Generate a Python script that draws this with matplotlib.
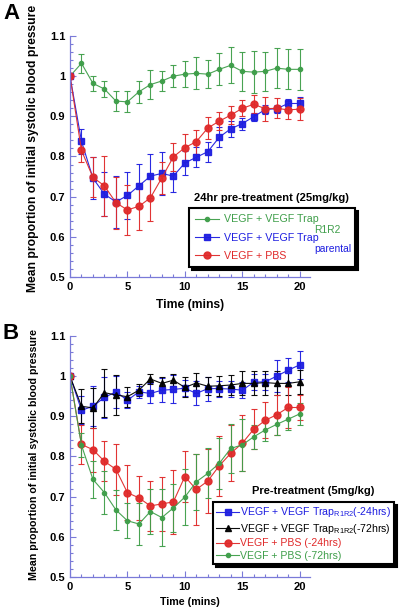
import numpy as np
import matplotlib.pyplot as plt
from matplotlib.ticker import MultipleLocator, FuncFormatter

plt.rcParams["font.family"] = ["Liberation Sans", "DejaVu Sans"]
plt.rcParams["mathtext.fontset"] = "custom"
plt.rcParams["mathtext.rm"] = "Liberation Sans"

time_min = np.arange(0, 21)

# Panel A: 24hr pre-treatment (25mg/kg)
a_r1r2 = [1.0, 1.032, 0.982, 0.968, 0.938, 0.936, 0.961, 0.979, 0.988, 1.0, 1.005,
          1.007, 1.005, 1.017, 1.027, 1.012, 1.01, 1.012, 1.02, 1.017, 1.017]
a_r1r2_err = [0, 0.024, 0.019, 0.02, 0.024, 0.026, 0.027, 0.036, 0.025, 0.028, 0.033,
              0.04, 0.035, 0.04, 0.045, 0.049, 0.053, 0.049, 0.049, 0.05, 0.051]
a_parental = [1.0, 0.838, 0.746, 0.706, 0.687, 0.703, 0.727, 0.751, 0.758, 0.751, 0.784,
              0.798, 0.812, 0.848, 0.869, 0.882, 0.899, 0.917, 0.919, 0.932, 0.932]
a_parental_err = [0, 0.031, 0.053, 0.055, 0.065, 0.058, 0.055, 0.055, 0.053, 0.04, 0.03,
                  0.025, 0.025, 0.025, 0.02, 0.015, 0.01, 0.01, 0.01, 0.01, 0.015]
a_pbs = [1.0, 0.815, 0.748, 0.727, 0.685, 0.667, 0.676, 0.697, 0.747, 0.799, 0.822,
         0.837, 0.871, 0.888, 0.903, 0.92, 0.93, 0.919, 0.92, 0.916, 0.918]
a_pbs_err = [0, 0.028, 0.05, 0.075, 0.065, 0.063, 0.058, 0.057, 0.04, 0.035, 0.035,
             0.03, 0.027, 0.023, 0.022, 0.02, 0.022, 0.03, 0.025, 0.022, 0.028]
a_labels = ["VEGF + VEGF Trap", "VEGF + VEGF Trap", "VEGF + PBS"]
a_subs = ["R1R2", "parental"]

# Panel B: Pre-treatment (5mg/kg)
b_trap24 = [1.0, 0.915, 0.925, 0.947, 0.961, 0.94, 0.961, 0.957, 0.965, 0.967, 0.97,
            0.957, 0.969, 0.969, 0.968, 0.965, 0.985, 0.986, 1.0, 1.015, 1.028]
b_trap24_err = [0, 0.035, 0.05, 0.05, 0.04, 0.02, 0.015, 0.025, 0.03, 0.035, 0.02,
                0.03, 0.03, 0.02, 0.02, 0.02, 0.02, 0.02, 0.04, 0.03, 0.035]
b_trap72 = [1.0, 0.925, 0.921, 0.959, 0.953, 0.949, 0.965, 0.993, 0.982, 0.99, 0.972,
            0.983, 0.975, 0.976, 0.978, 0.982, 0.982, 0.984, 0.982, 0.982, 0.986]
b_trap72_err = [0, 0.042, 0.05, 0.06, 0.05, 0.025, 0.015, 0.012, 0.015, 0.015, 0.025,
                0.025, 0.022, 0.025, 0.025, 0.03, 0.03, 0.03, 0.03, 0.03, 0.03]
b_pbs24 = [1.0, 0.83, 0.817, 0.788, 0.768, 0.71, 0.697, 0.677, 0.682, 0.687, 0.75,
           0.718, 0.739, 0.777, 0.808, 0.833, 0.868, 0.89, 0.904, 0.922, 0.922]
b_pbs24_err = [0, 0.048, 0.055, 0.05, 0.063, 0.068, 0.055, 0.063, 0.067, 0.08, 0.063,
               0.088, 0.08, 0.075, 0.07, 0.07, 0.05, 0.045, 0.05, 0.05, 0.03]
b_pbs72 = [1.0, 0.828, 0.743, 0.71, 0.667, 0.64, 0.632, 0.663, 0.648, 0.672, 0.699,
           0.737, 0.758, 0.783, 0.82, 0.829, 0.849, 0.866, 0.88, 0.893, 0.906]
b_pbs72_err = [0, 0.03, 0.047, 0.053, 0.05, 0.043, 0.052, 0.055, 0.072, 0.06, 0.07,
               0.07, 0.062, 0.063, 0.06, 0.065, 0.03, 0.027, 0.027, 0.027, 0.027]
b_labels = ["VEGF + VEGF Trap$_{\\mathregular{R1R2}}$(-24hrs)",
            "VEGF + VEGF Trap$_{\\mathregular{R1R2}}$(-72hrs)",
            "VEGF + PBS (-24hrs)", "VEGF + PBS (-72hrs)"]

green = "#3f9e4a"
blue = "#1e1ee0"
red = "#e02a2a"
axis_col = "#7a7ad8"

W, H = 400, 612
fig = plt.figure(figsize=(W / 100, H / 100), dpi=100)
axA = fig.add_axes([70 / W, 1 - 277 / H, 240 / W, 241 / H])
axB = fig.add_axes([70 / W, 1 - 577 / H, 240 / W, 241 / H])


def draw(ax, y, err, color, marker, ms):
    c = ax.errorbar(time_min, y, yerr=err, color=color, ecolor=color, elinewidth=0.8,
                    capsize=2, capthick=0.8, marker=marker, markersize=ms, lw=0.8,
                    alpha=0.95)
    return c[0]


def style(ax, lab_size):
    ax.set_xlim(0, 20.9)
    ax.set_ylim(0.5, 1.1)
    for s in ["top", "right"]:
        ax.spines[s].set_visible(False)
    for s in ["left", "bottom"]:
        ax.spines[s].set_color(axis_col)
        ax.spines[s].set_linewidth(0.9)
    ax.xaxis.set_major_locator(MultipleLocator(5))
    ax.xaxis.set_minor_locator(MultipleLocator(1))
    ax.yaxis.set_major_locator(MultipleLocator(0.1))
    ax.yaxis.set_minor_locator(MultipleLocator(0.02))
    ax.yaxis.set_major_formatter(FuncFormatter(lambda v, p: f"{v:g}"))
    ax.tick_params(which="both", direction="in", color=axis_col, width=0.8)
    ax.tick_params(which="major", length=4, labelsize=8)
    ax.tick_params(which="minor", length=2)
    for t in ax.get_xticklabels() + ax.get_yticklabels():
        t.set_fontweight("bold")
    ax.set_xlabel("Time (mins)", fontsize=lab_size, fontweight="bold")
    ax.set_ylabel("Mean proportion of initial systolic blood pressure",
                  fontsize=lab_size, fontweight="bold")


# Panel A
hA = [draw(axA, a_r1r2, a_r1r2_err, green, "o", 3),
      draw(axA, a_parental, a_parental_err, blue, "s", 4.5),
      draw(axA, a_pbs, a_pbs_err, red, "o", 5)]
style(axA, 8.7)
axA.xaxis.labelpad = 5.5
axA.yaxis.set_label_coords(-0.13, 0.533)
axA.text(0.84, 0.328, "24hr pre-treatment (25mg/kg)", transform=axA.transAxes,
         ha="center", va="center", fontsize=8, fontweight="bold")
legA = axA.legend(hA, a_labels, loc="upper left",
                  bbox_to_anchor=(0.496, 0.041, 0.692, 0.245), mode="expand",
                  fontsize=7.7, handlelength=2.2, handletextpad=0.5, labelspacing=0.75,
                  borderpad=0.6, borderaxespad=0, fancybox=False, edgecolor="black",
                  shadow={"color": "black", "alpha": 1})
legA.get_frame().set_linewidth(1.5)
for t, c in zip(legA.get_texts(), [green, blue, red]):
    t.set_color(c)

# Panel B
hB = [draw(axB, b_trap24, b_trap24_err, blue, "s", 4.5),
      draw(axB, b_trap72, b_trap72_err, "black", "^", 4.5),
      draw(axB, b_pbs24, b_pbs24_err, red, "o", 5),
      draw(axB, b_pbs72, b_pbs72_err, green, "o", 3)]
style(axB, 7.7)
axB.xaxis.labelpad = 3.5
axB.yaxis.set_label_coords(-0.13, 0.51)
axB.text(1.0125, 0.357, "Pre-treatment (5mg/kg)", transform=axB.transAxes,
         ha="center", va="center", fontsize=8, fontweight="bold")
legB = axB.legend(hB, b_labels, loc="upper left", bbox_to_anchor=(0.596, 0.311),
                  fontsize=7.6, handlelength=2.2, handletextpad=0.05, labelspacing=0.25,
                  borderpad=0.3, borderaxespad=0, fancybox=False, edgecolor="black",
                  shadow={"color": "black", "alpha": 1})
legB.get_frame().set_linewidth(1.5)
for t, c in zip(legB.get_texts(), [blue, "black", red, green]):
    t.set_color(c)

fig.text(3 / W, 1 - 3 / H, "A", fontsize=16, fontweight="bold", va="top")
fig.text(3 / W, 1 - 323 / H, "B", fontsize=16, fontweight="bold", va="top")

# subscripts of legend A sit below the end of the entry text
fig.canvas.draw()
texts = legA.get_texts()
for t, sub, c in zip(texts[:2], a_subs, [green, blue]):
    bb = t.get_window_extent()
    fig.text((bb.x1 - 5) / W, (bb.y0 - 1) / H, sub, color=c, fontsize=7.4,
             ha="left", va="top")

fig.savefig("out.png", dpi=100)
